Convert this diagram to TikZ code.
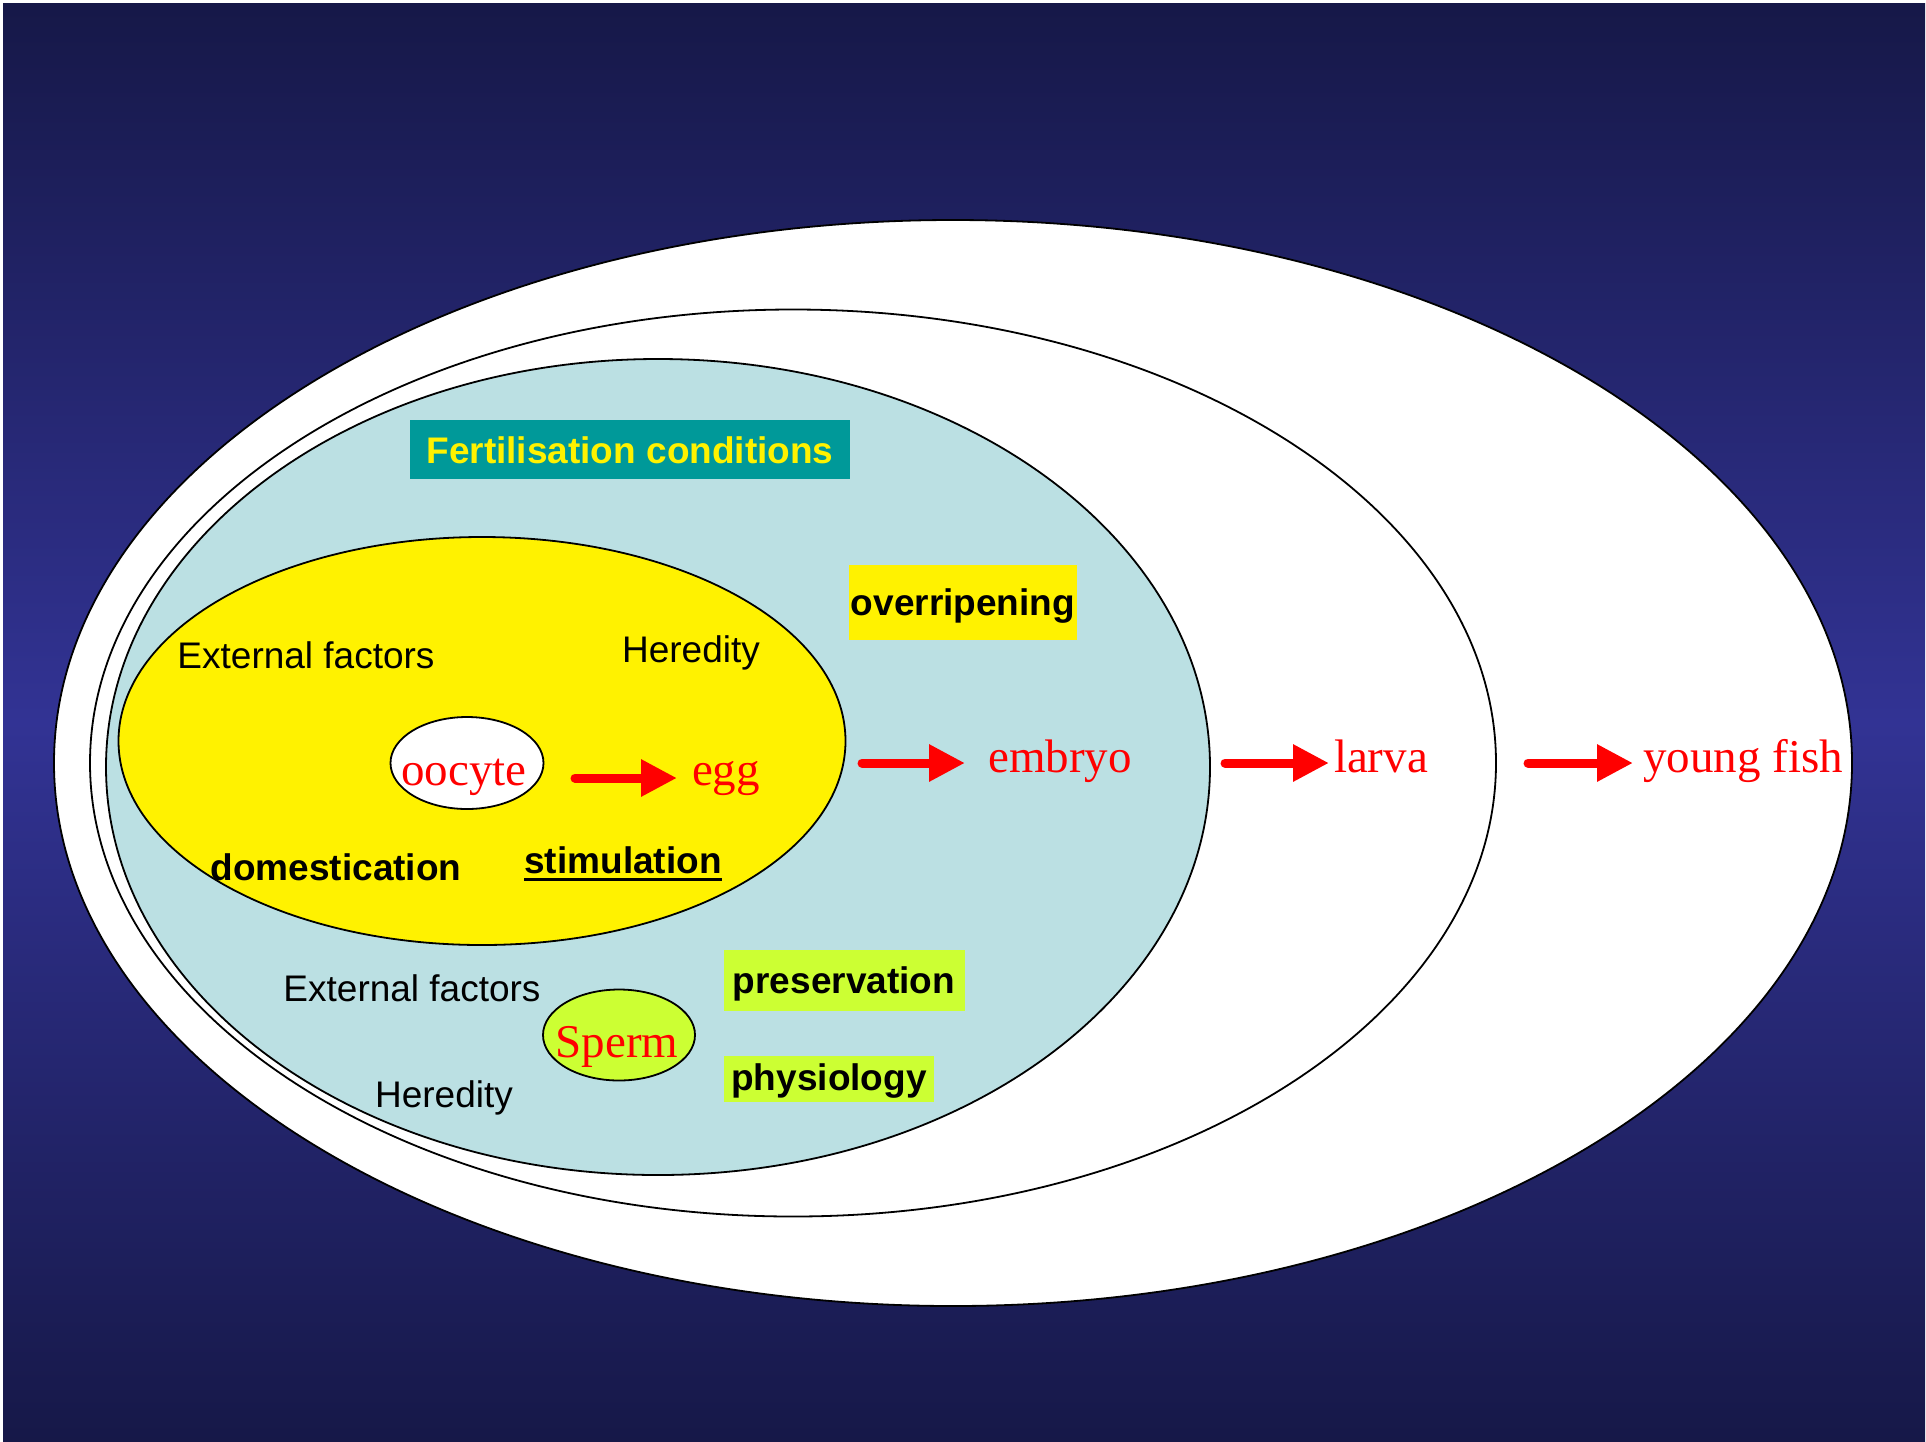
\documentclass[tikz,border=0pt]{standalone}
\usepackage{fontspec}
\setmainfont{Liberation Serif}
\setsansfont{Liberation Sans}
\usetikzlibrary{arrows.meta,shapes.geometric}
\definecolor{bgdark}{RGB}{22,24,72}
\definecolor{bgmid}{RGB}{50,51,148}
\definecolor{paleblue}{HTML}{BBE0E3}
\definecolor{tealbox}{HTML}{009999}
\definecolor{limebox}{HTML}{CCFF33}
\begin{document}
\begin{tikzpicture}[x=1pt,y=-1pt,
  ring/.style={ellipse, draw=black, line width=1.8pt, inner sep=0pt},
  sanslab/.style={font=\fontsize{37}{40}\selectfont\sffamily, text=black, anchor=base, inner sep=0pt},
  boldlab/.style={font=\fontsize{37}{40}\selectfont\sffamily\bfseries, text=black, anchor=base, inner sep=0pt},
  stage/.style={font=\fontsize{47}{50}\selectfont\rmfamily, text=red, anchor=base, inner sep=0pt},
  tagbox/.style={font=\fontsize{37}{40}\selectfont\sffamily\bfseries, anchor=base, inner sep=0pt, align=center},
  flow/.style={draw=red, line width=9pt, line cap=round, -{Triangle[length=36pt,width=35pt]}}
]
\useasboundingbox (0,0) rectangle (1926,1441);
\fill[white] (0,0) rectangle (1926,1441);
\shade[top color=bgdark, bottom color=bgdark, middle color=bgmid] (3,3) rectangle (1925,1441);

% nested ellipses
\node[ring, fill=white, minimum width=1798pt, minimum height=1086pt] (outer) at (953,763) {};
\node[ring, fill=white, minimum width=1406pt, minimum height=907pt] (middle) at (793,763) {};
\node[ring, fill=paleblue, minimum width=1104pt, minimum height=816pt] (inner) at (658,767) {};
\node[ring, fill=yellow, minimum width=727pt, minimum height=408pt] (eggzone) at (482,741) {};
\node[ring, fill=white, minimum width=153pt, minimum height=92pt] (oocell) at (467,763) {};
\node[ring, fill=limebox, minimum width=152pt, minimum height=91pt] (spermcell) at (619,1035) {};

% boxes
\node[tagbox, fill=tealbox, text=yellow, minimum width=440pt, text height=43pt, text depth=16pt] (fert) at (630,463) {Fertilisation conditions};
\node[tagbox, fill=yellow, text=black, minimum width=228pt, text height=50pt, text depth=25pt] (over) at (963,615) {overripening};
\node[tagbox, fill=limebox, text=black, minimum width=241pt, text height=43pt, text depth=18pt] (pres) at (844,993) {preservation};
\node[tagbox, fill=limebox, text=black, minimum width=210pt, text height=34pt, text depth=12pt] (phys) at (829,1090) {physiology};

% labels in yellow ellipse
\node[sanslab] (ext1) at (306,668) {External factors};
\node[sanslab] (her1) at (691,662) {Heredity};
\node[boldlab] (dom) at (336,880) {domestication};
\node[boldlab] (stim) at (623,873) {stimulation};
\draw[line width=3pt] (stim.west |- 0,879) -- (stim.east |- 0,879);

% labels near sperm
\node[sanslab] (ext2) at (412,1001) {External factors};
\node[sanslab] (her2) at (444,1107) {Heredity};

% stages
\node[stage] (oocyte) at (464,785) {oocyte};
\node[stage] (egg) at (726,785) {egg};
\node[stage] (embryo) at (1060,772) {embryo};
\node[stage] (larva) at (1381,772) {larva};
\node[stage] (fish) at (1743,772) {young fish};
\node[stage] (sperm) at (617,1057) {Sperm};

% arrows
\coordinate (a1s) at (575,778); \coordinate (a1e) at (677,778);
\coordinate (a2s) at (862,763); \coordinate (a2e) at (965,763);
\coordinate (a3s) at (1225,763); \coordinate (a3e) at (1329,763);
\coordinate (a4s) at (1528,763); \coordinate (a4e) at (1633,763);
\draw[flow] (a1s) -- (a1e);
\draw[flow] (a2s) -- (a2e);
\draw[flow] (a3s) -- (a3e);
\draw[flow] (a4s) -- (a4e);
\end{tikzpicture}
\end{document}
